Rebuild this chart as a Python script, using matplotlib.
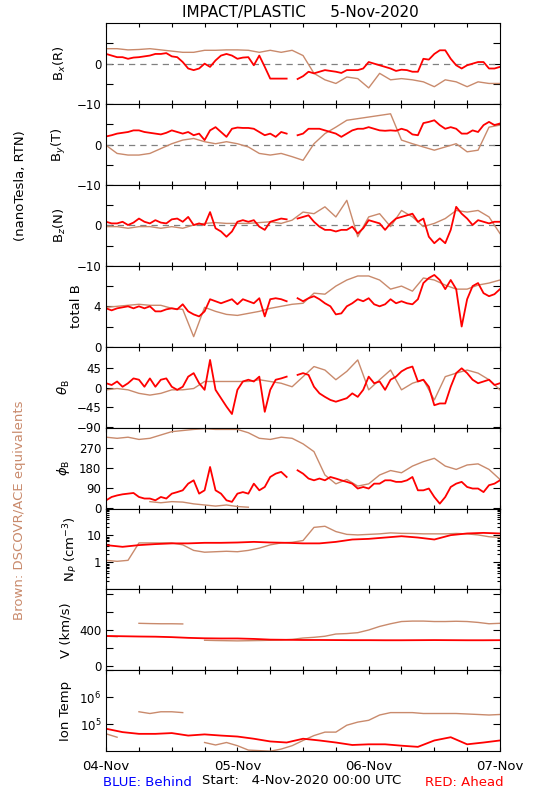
import numpy as np
import matplotlib
matplotlib.use('Agg')
import matplotlib.pyplot as plt
from matplotlib.ticker import LogLocator, NullFormatter, NullLocator

nan = np.nan

# time axes, hours after 4-Nov-2020 00:00 UTC
t_hourly = np.arange(0, 73, 1)
t_2h = np.arange(0, 73, 2)
t_3h = np.arange(0, 73, 3)

# ---- magnetic field, STEREO-A (red), hourly ----
bx_red = [2.4, 2.0, 1.6, 1.6, 1.2, 1.5, 1.6, 1.8, 2.0, 2.4,
          2.4, 2.6, 1.8, 1.6, 0.4, -1.2, -1.6, -1.2, 0.0, -0.8,
          0.8, 2.0, 2.4, 2.0, 1.2, 1.5, 1.6, -0.4, 2.0, -0.8,
          -3.7, -3.7, -3.7, -3.7, nan, -3.8, -3.1, -2.0, -2.4, -2.0,
          -1.6, -1.8, -2.0, -2.3, -1.6, -1.6, -1.6, -1.2, 0.4, 0.0,
          -0.4, -0.8, -1.2, -1.8, -1.5, -1.6, -2.0, -2.0, 1.2, 1.0,
          2.4, 3.3, 3.3, 1.2, -0.4, -1.2, -0.4, 0.0, 0.4, 0.4,
          -1.2, -1.2, -0.8]
by_red = [2.0, 2.3, 2.7, 2.9, 3.1, 3.5, 3.5, 3.1, 2.9, 2.7,
          2.5, 2.9, 3.5, 3.1, 2.7, 3.1, 2.3, 2.7, 1.1, 3.5,
          4.3, 3.1, 1.9, 3.9, 4.2, 4.1, 4.1, 3.9, 3.1, 2.3,
          2.7, 1.9, 3.1, 2.7, nan, 2.3, 2.7, 3.9, 3.9, 3.9,
          3.5, 3.1, 2.7, 1.9, 2.7, 3.5, 3.9, 3.9, 4.3, 3.9,
          3.5, 3.4, 3.5, 3.4, 3.9, 3.5, 2.5, 2.3, 5.3, 5.6,
          6.0, 4.8, 3.9, 4.3, 3.9, 2.7, 2.7, 3.5, 3.1, 4.8,
          5.6, 4.8, 5.2]
bz_red = [0.9, 0.5, 0.5, 0.9, 0.1, 0.7, 1.7, 0.9, 0.5, 1.3,
          0.7, 0.5, 1.5, 1.7, 0.9, 2.1, 0.1, 0.5, 0.1, 3.3,
          -0.7, -1.5, -2.8, -1.5, 0.9, 1.3, 0.9, 1.3, -0.3, -1.1,
          0.9, 1.3, 1.7, 1.5, nan, 1.7, 2.1, 2.5, 0.9, -0.3,
          -1.1, -1.1, -1.5, -1.1, -1.1, -0.3, -2.0, -0.7, 1.3, 0.9,
          0.5, -1.1, 0.5, 1.7, 2.1, 2.5, 2.9, 0.9, 1.7, -2.8,
          -4.4, -3.2, -4.4, -1.1, 4.6, 2.9, 1.7, 0.1, 1.3, 0.9,
          0.5, 0.9, 0.9]
bt_red = [3.8, 3.6, 3.8, 3.9, 4.0, 3.8, 4.0, 3.8, 4.0, 3.5,
          3.5, 3.7, 3.8, 3.7, 4.2, 3.5, 3.2, 3.0, 3.5, 4.7,
          4.5, 4.3, 4.5, 4.7, 4.2, 4.7, 4.5, 4.3, 4.8, 3.0,
          4.7, 4.8, 4.7, 4.5, nan, 4.8, 4.5, 4.8, 5.0, 4.7,
          4.3, 4.0, 3.2, 3.3, 4.0, 4.3, 4.7, 4.5, 4.8, 4.2,
          4.0, 4.2, 4.7, 4.3, 4.5, 4.3, 4.2, 4.7, 6.3, 6.8,
          7.1, 6.6, 5.7, 6.6, 5.7, 2.0, 4.7, 6.0, 6.3, 5.3,
          5.0, 5.2, 5.7]
theta_red = [10, 6, 14, 2, 10, 21, 18, 2, 21, 2,
             18, 21, 2, -5, 2, 25, 33, 10, -5, 63,
             -5, -24, -43, -60, -5, 14, 18, 14, 25, -55,
             -5, 18, 21, 25, nan, 29, 33, 29, 2, -13,
             -21, -28, -32, -28, -24, -13, -21, -5, 25, 10,
             14, -5, 18, 25, 37, 44, 48, 14, 18, 2,
             -40, -36, -36, 2, 33, 44, 33, 18, 10, 14,
             18, 6, 10]
phi_red = [36, 51, 58, 63, 66, 69, 51, 44, 44, 36,
           51, 44, 66, 73, 81, 111, 126, 66, 81, 186,
           81, 66, 36, 29, 66, 73, 66, 111, 81, 96,
           141, 156, 164, 141, nan, 171, 156, 134, 126, 134,
           126, 141, 134, 126, 119, 111, 89, 96, 89, 111,
           111, 126, 126, 119, 119, 126, 141, 81, 81, 89,
           51, 21, 51, 96, 111, 119, 96, 89, 89, 73,
           104, 111, 126]

# ---- magnetic field, DSCOVR/ACE (brown), 2-hourly ----
bx_brown = [3.7, 3.7, 3.4, 3.5, 3.7, 3.4, 3.1, 2.8, 2.8, 3.3, 3.3, 3.4, 3.4, 3.3, 2.8, 3.3, 2.8, 3.3,
            2.0, -2.4, -4.0, -4.9, -3.3, -3.7, -6.0, -2.4, -4.0, -3.7, -4.0, -4.5, -5.7, -4.0, -4.5,
            -5.7, -4.5, -4.9, -4.9]
by_brown = [-0.2, -2.2, -2.6, -2.6, -2.2, -1.0, 0.2, 1.1, 1.5, 0.7, 0.2, 0.7, 0.2, -0.6, -2.2, -2.6,
            -2.2, -3.0, -3.9, 0.2, 2.7, 4.3, 6.0, 6.4, 6.8, 7.2, 7.6, 1.1, 0.2, -0.6, -1.4, -0.6, 0.2,
            -1.8, -1.4, 4.3, 4.8]
bz_brown = [-0.3, -0.3, -0.7, -0.3, -0.3, -0.7, -0.3, -0.7, 0.1, 0.5, 0.7, 0.5, 0.5, 0.5, 0.7, 0.9,
            0.5, 1.3, 3.3, 2.9, 4.6, 2.1, 6.2, -2.8, 2.1, 2.9, -0.3, 3.7, 2.1, -0.3, 0.5, 1.7, 3.7,
            3.3, 3.7, 2.1, -2.0]
bt_brown = [3.9, 4.0, 4.1, 4.2, 4.1, 4.1, 3.8, 3.7, 1.0, 3.9, 3.5, 3.2, 3.1, 3.3, 3.5, 3.8, 4.0, 4.2,
            4.3, 5.3, 5.2, 6.0, 6.6, 7.0, 7.0, 6.6, 5.7, 6.0, 5.5, 6.8, 6.6, 6.1, 5.7, 5.7, 6.1, 6.3,
            6.6]
theta_brown = [-5, -2, -5, -13, -17, -13, -5, -5, -2, 14, 14, 14, 14, 14, 18, 14, 10, 2,
               25, 48, 40, 18, 37, 63, -5, 18, 40, -5, 10, 18, -28, 25, 33, 40, 33, 18, -5]
phi_brown = [320, 315, 320, 310, 315, 330, 345, 350, 355, 358, 355, 355, 355, 340, 315, 310, 320, 315,
             290, 255, 150, 110, 130, 100, 110, 150, 170, 160, 190, 210, 225, 190, 175, 195, 200, 175,
             130]
# part of the brown phi trace that wraps round past 360
t_phi_wrap = np.arange(8, 27, 2)
phi_brown_wrap = [30, 25, 30, 28, 20, 15, 10, 15, 8, 5]

# ---- plasma ----
n_red = [4.4, 3.8, 4.4, 4.8, 5.1, 5.1, 5.35, 5.35, 5.5, 5.8, 5.5, 5.35, 5.1, 5.1, 5.8, 7.1, 7.5,
         8.4, 9.4, 8.4, 7.1, 10.3, 11.9, 12.5, 11.9]
n_brown = [1.2, 1.1, 1.2, 5.3, 5.3, 5.3, 5.3, 4.5, 2.8, 2.4, 2.5, 2.6, 2.5, 2.8, 3.4, 4.5, 5.3, 5.6,
           6.5, 20, 22, 14, 11, 10.5, 11, 11.5, 12.5, 12, 11.9, 11.5, 11.5, 11.5, 11.9, 11.5, 10.5,
           9, 8.5]
v_red = [333, 330, 327, 325, 320, 312, 307, 305, 305, 300, 292, 290, 288, 288, 287, 286, 286, 285,
         285, 286, 287, 286, 285, 285, 286]
v_brown = [330, 325, nan, 475, 472, 470, 470, 468, nan, 285, 282, 280, 278, 280, 282, 285, 288, 295,
           310, 318, 330, 355, 360, 370, 400, 440, 470, 495, 500, 500, 495, 495, 498, 495, 485, 470,
           475]
t_red = [6.8e4, 5.1e4, 4.4e4, 4.4e4, 4.7e4, 3.8e4, 4.2e4, 3.8e4, 3.5e4, 2.9e4, 2.3e4, 2.1e4, 2.9e4,
         2.5e4, 2.1e4, 1.7e4, 1.8e4, 1.8e4, 1.6e4, 1.45e4, 2.5e4, 3.3e4, 1.8e4, 2.1e4, 2.5e4]
t_brown = [4.4e4, 3.3e4, nan, 2.9e5, 2.5e5, 2.9e5, 2.9e5, 2.7e5, nan, 2.1e4, 1.7e4, 2.1e4, 1.6e4,
           1.1e4, 1.05e4, 1.0e4, 1.2e4, 1.6e4, 2.5e4, 3.8e4, 5.1e4, 5.1e4, 9.2e4, 1.2e5, 1.4e5,
           2.2e5, 2.7e5, 2.7e5, 2.7e5, 2.5e5, 2.5e5, 2.5e5, 2.5e5, 2.4e5, 2.3e5, 2.2e5, 2.3e5]

day_labels = ['04-Nov', '05-Nov', '06-Nov', '07-Nov']

RED = '#ff0000'
BROWN = '#c98a6c'
M = '\u2212'

fig, axes = plt.subplots(9, 1, figsize=(5.5, 8), dpi=100, sharex=True,
                         gridspec_kw=dict(hspace=0))
fig.subplots_adjust(left=0.193, right=0.909, top=0.971, bottom=0.061)

# (brown times, brown values, red times, red values, ylim, yticks, ylabels, ylabel, label x)
panels = [
    (t_2h, bx_brown, t_hourly, bx_red, (-10, 10), [-10, -5, 0, 5], [M + '10', '', '0', ''],
     'B$_x$(R)', -0.096),
    (t_2h, by_brown, t_hourly, by_red, (-10, 10), [-10, -5, 0, 5], [M + '10', '', '0', ''],
     'B$_y$(T)', -0.096),
    (t_2h, bz_brown, t_hourly, bz_red, (-10, 10), [-10, -5, 0, 5], [M + '10', '', '0', ''],
     'B$_z$(N)', -0.096),
    (t_2h, bt_brown, t_hourly, bt_red, (0, 8), [0, 2, 4, 6], ['0', '', '4', ''],
     'total B', -0.058),
    (t_2h, theta_brown, t_hourly, theta_red, (-91, 93), [-90, -45, 0, 45],
     [M + '90', M + '45', '0', '45'], r'$\theta_{\rm B}$', -0.086),
    (t_2h, phi_brown, t_hourly, phi_red, (-1, 363), [0, 90, 180, 270], ['0', '90', '180', '270'],
     r'$\phi_{\rm B}$', -0.086),
    (t_2h, n_brown, t_3h, n_red, (0.1, 100), None, None, 'N$_P$ (cm$^{-3}$)', -0.066),
    (t_2h, v_brown, t_3h, v_red, (-52, 855), [0, 200, 400, 600, 800], ['0', '', '400', '', ''],
     'V (km/s)', -0.086),
    (t_2h, t_brown, t_3h, t_red, (1e4, 1e7), None, None, 'Ion Temp', -0.086),
]

for i, (ax, p) in enumerate(zip(axes, panels)):
    tb, yb, tr, yr, ylim, yt, ytl, lab, lx = p
    if i < 3:
        ax.axhline(0, color='gray', linestyle='--', linewidth=0.9, dashes=(5, 4))
    ax.plot(tb, yb, color=BROWN, linewidth=1.0)
    if i == 5:
        ax.plot(t_phi_wrap, phi_brown_wrap, color=BROWN, linewidth=1.0)
    ax.plot(tr, yr, color=RED, linewidth=1.3)

    if i in (6, 8):
        ax.set_yscale('log')
    ax.set_ylim(*ylim)
    if i == 6:
        ax.set_yticks([1, 10], ['1', '10'])
        ax.yaxis.set_minor_locator(LogLocator(base=10, subs=np.arange(2, 10)))
        ax.yaxis.set_minor_formatter(NullFormatter())
    elif i == 8:
        ax.set_yticks([1e5, 1e6, 1e7], ['$10^5$', '$10^6$', ''])
        ax.yaxis.set_minor_locator(NullLocator())
    else:
        ax.set_yticks(yt, ytl)

    ax.set_ylabel(lab, fontsize=9.5)
    ax.yaxis.set_label_coords(lx, 0.5)

    ax.tick_params(which='both', direction='in', top=True, right=True, labelsize=8.5, width=0.8)
    ax.tick_params(axis='y', which='major', length=5)
    ax.tick_params(axis='y', which='minor', length=2.5)
    ax.tick_params(axis='x', which='major', length=3)
    for s in ax.spines.values():
        s.set_linewidth(0.8)

axes[-1].set_xlim(0, 72)
xt = np.arange(0, 73, 6)
axes[-1].set_xticks(xt, [day_labels[k // 24] if k % 24 == 0 else '' for k in xt])
axes[-1].tick_params(axis='x', labelsize=9.5, pad=6)

fig.text(0.547, 0.984, 'IMPACT/PLASTIC     5-Nov-2020', ha='center', va='center', fontsize=11)
fig.text(0.038, 1 - 186 / 800, '(nanoTesla, RTN)', rotation=90, ha='center', va='center',
         fontsize=9.5)
fig.text(0.036, 1 - 510 / 800, 'Brown: DSCOVR/ACE equivalents', rotation=90, ha='center',
         va='center', fontsize=9.5, color=BROWN)
fig.text(147 / 550, 1 - 783 / 800, 'BLUE: Behind', ha='center', va='center', fontsize=9.5,
         color='blue')
fig.text(302 / 550, 1 - 781 / 800, 'Start:   4-Nov-2020 00:00 UTC', ha='center', va='center',
         fontsize=9.5)
fig.text(464 / 550, 1 - 783 / 800, 'RED: Ahead', ha='center', va='center', fontsize=9.5,
         color='red')

fig.savefig('out.png', dpi=100)
